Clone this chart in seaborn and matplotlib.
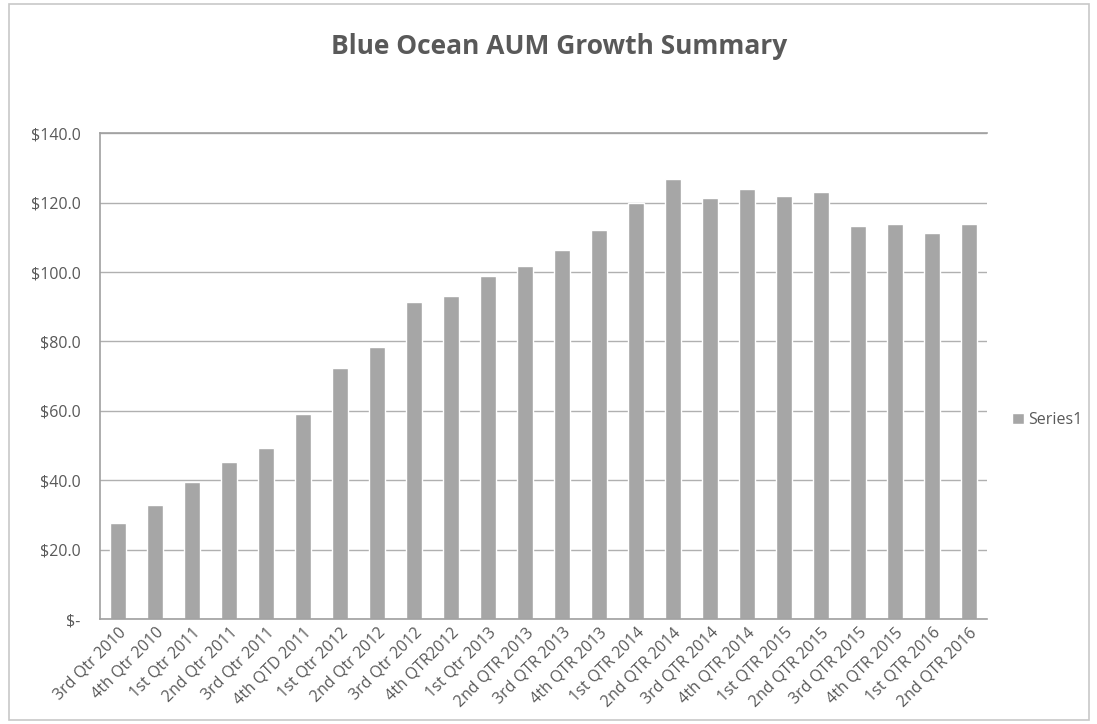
import pandas as pd
import matplotlib.pyplot as plt
import seaborn as sns
from matplotlib.ticker import FuncFormatter, MultipleLocator
from matplotlib.patches import Rectangle

quarters = [
    "3rd Qtr 2010", "4th Qtr 2010", "1st Qtr 2011", "2nd Qtr 2011", "3rd Qtr 2011",
    "4th QTD 2011", "1st Qtr 2012", "2nd Qtr 2012", "3rd Qtr 2012", "4th QTR2012",
    "1st Qtr 2013", "2nd QTR 2013", "3rd QTR 2013", "4th QTR 2013", "1st QTR 2014",
    "2nd QTR 2014", "3rd QTR 2014", "4th QTR 2014", "1st QTR 2015", "2nd QTR 2015",
    "3rd QTR 2015", "4th QTR 2015", "1st QTR 2016", "2nd QTR 2016",
]
aum = [
    27.8, 32.8, 39.4, 45.2, 49.3, 59.1, 72.2, 78.3, 91.3, 93.0,
    98.8, 101.7, 106.4, 112.2, 120.0, 126.7, 121.2, 123.8, 121.8, 123.0,
    113.3, 113.9, 111.3, 113.9,
]

df = pd.DataFrame({"Quarter": quarters, "AUM": aum})

sns.set_style("white")
plt.rcParams["font.family"] = ["Open Sans", "DejaVu Sans"]

text_grey = "#595959"
bar_grey = "#a6a6a6"

fig = plt.figure(figsize=(10.97, 7.24), dpi=100)
ax = fig.add_axes([0.091, 0.145, 0.809, 0.671])

sns.barplot(data=df, x="Quarter", y="AUM", color=bar_grey, width=0.43,
            saturation=1, label="Series1", ax=ax)

ax.set_ylim(0, 140)
ax.yaxis.set_major_locator(MultipleLocator(20))
ax.yaxis.set_major_formatter(FuncFormatter(lambda v, p: "$-" if v == 0 else f"${v:.1f}"))
ax.grid(axis="y", color="#b0b0b0", linewidth=1.0)
ax.set_axisbelow(True)

for side in ["left", "bottom", "top"]:
    ax.spines[side].set_color("#a0a0a0")
    ax.spines[side].set_linewidth(1.2)
ax.spines["right"].set_visible(False)

ax.set_xlabel("")
ax.set_ylabel("")
ax.tick_params(axis="y", colors=text_grey, labelsize=11.5, length=0, pad=14)
ax.tick_params(axis="x", colors=text_grey, labelsize=11.5, length=0, pad=4)
plt.setp(ax.get_xticklabels(), rotation=45, ha="right", rotation_mode="anchor")

ax.legend(loc="center left", bbox_to_anchor=(1.012, 0.41), frameon=False,
          handlelength=0.7, handleheight=0.7, handletextpad=0.3,
          fontsize=11.5, labelcolor=text_grey)

fig.suptitle("Blue Ocean AUM Growth Summary", x=0.51, y=0.955,
             fontsize=19, fontweight="bold", color=text_grey)

fig.patches.append(Rectangle((0.008, 0.005), 0.985, 0.99, transform=fig.transFigure,
                             fill=False, edgecolor="#c8c8c8", linewidth=1.2))

fig.savefig("out.png", dpi=100)
